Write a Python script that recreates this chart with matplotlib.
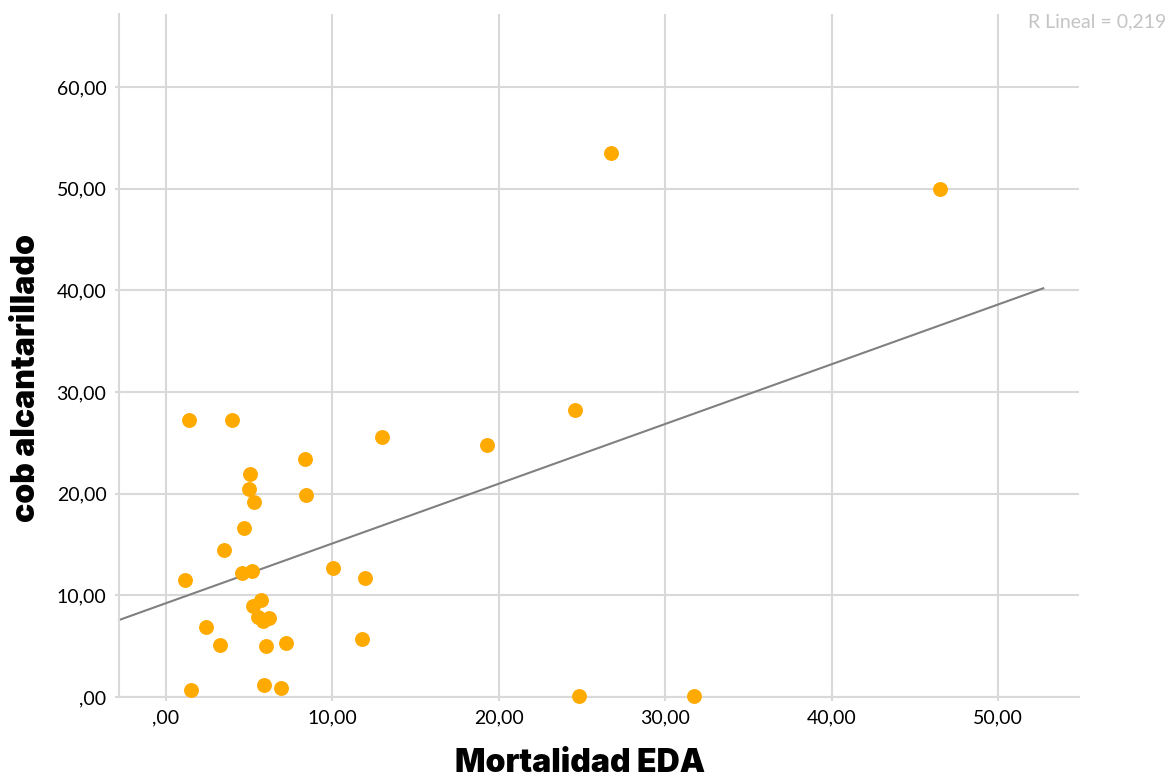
import numpy as np
import matplotlib.pyplot as plt
from matplotlib.ticker import FuncFormatter

# data
mortalidad_eda = [1.38, 3.98, 1.14, 1.50, 2.42, 3.22, 3.47, 4.67, 5.05, 4.99,
                  5.31, 4.59, 5.15, 5.26, 5.72, 5.53, 5.83, 6.19, 5.99, 7.19,
                  5.87, 6.89, 8.33, 8.39, 10.03, 11.93, 11.75, 12.95, 19.30,
                  24.58, 24.82, 26.74, 31.71, 46.52]
cob_alcantarillado = [27.30, 27.30, 11.51, 0.66, 6.86, 5.08, 14.48, 16.59, 21.93, 20.49,
                      19.16, 12.23, 12.43, 8.99, 9.54, 7.87, 7.50, 7.77, 4.99, 5.28,
                      1.15, 0.86, 23.41, 19.87, 12.72, 11.70, 5.70, 25.57, 24.79,
                      28.23, 0.05, 53.51, 0.05, 49.97]
y_ticks = [0, 10, 20, 30, 40, 50, 60]
x_ticks = [0, 10, 20, 30, 40, 50]
# fit line as drawn in the picture (intercept, slope) and its x extent
fit_intercept = 9.23
fit_slope = 0.588
fit_range = [-2.82, 52.7]
r2_text = 'R Lineal = 0,219'

plt.rcParams['font.family'] = ['Lato', 'DejaVu Sans']

fig = plt.figure(figsize=(11.7, 7.8), dpi=100)
ax = fig.add_axes([0.1017, 0.1064, 0.8207, 0.8756])

grid_col = '#d9d9d9'
ax.set_xlim(-2.82, 54.86)
ax.set_ylim(0, 67.2)
ax.set_xticks(x_ticks)
ax.set_yticks(y_ticks)
ax.grid(True, color=grid_col, linewidth=1.5)
ax.set_axisbelow(True)

def comma_fmt(v, pos):
    s = '%.2f' % v
    if s.startswith('0.'):
        s = s[1:]
    return s.replace('.', ',')

ax.xaxis.set_major_formatter(FuncFormatter(comma_fmt))
ax.yaxis.set_major_formatter(FuncFormatter(comma_fmt))
ax.tick_params(axis='both', length=3, width=1.5, color=grid_col,
               labelsize=14, labelcolor='black', pad=6)

for side in ['top', 'right']:
    ax.spines[side].set_visible(False)
for side in ['left', 'bottom']:
    ax.spines[side].set_color(grid_col)
    ax.spines[side].set_linewidth(1.5)

fx = np.array(fit_range)
ax.plot(fx, fit_intercept + fit_slope * fx, color='#808080', linewidth=1.5,
        zorder=2, clip_on=False)

ax.scatter(mortalidad_eda, cob_alcantarillado, s=115, color='#ffaa00',
           linewidths=0, zorder=3, clip_on=False)

label_font = ['Inter', 'Roboto', 'DejaVu Sans']
ax.set_xlabel('Mortalidad EDA', fontsize=23, fontweight='black',
              family=label_font, va='center')
ax.set_ylabel('cob alcantarillado', fontsize=23, fontweight='black',
              family=label_font, va='center')
ax.xaxis.set_label_coords(0.48, -0.098)
ax.yaxis.set_label_coords(-0.0967, 0.467)

fig.text(0.997, 0.972, r2_text, ha='right', va='center', fontsize=14,
         color='#c4c4c4')

fig.savefig('out.png', dpi=100)
